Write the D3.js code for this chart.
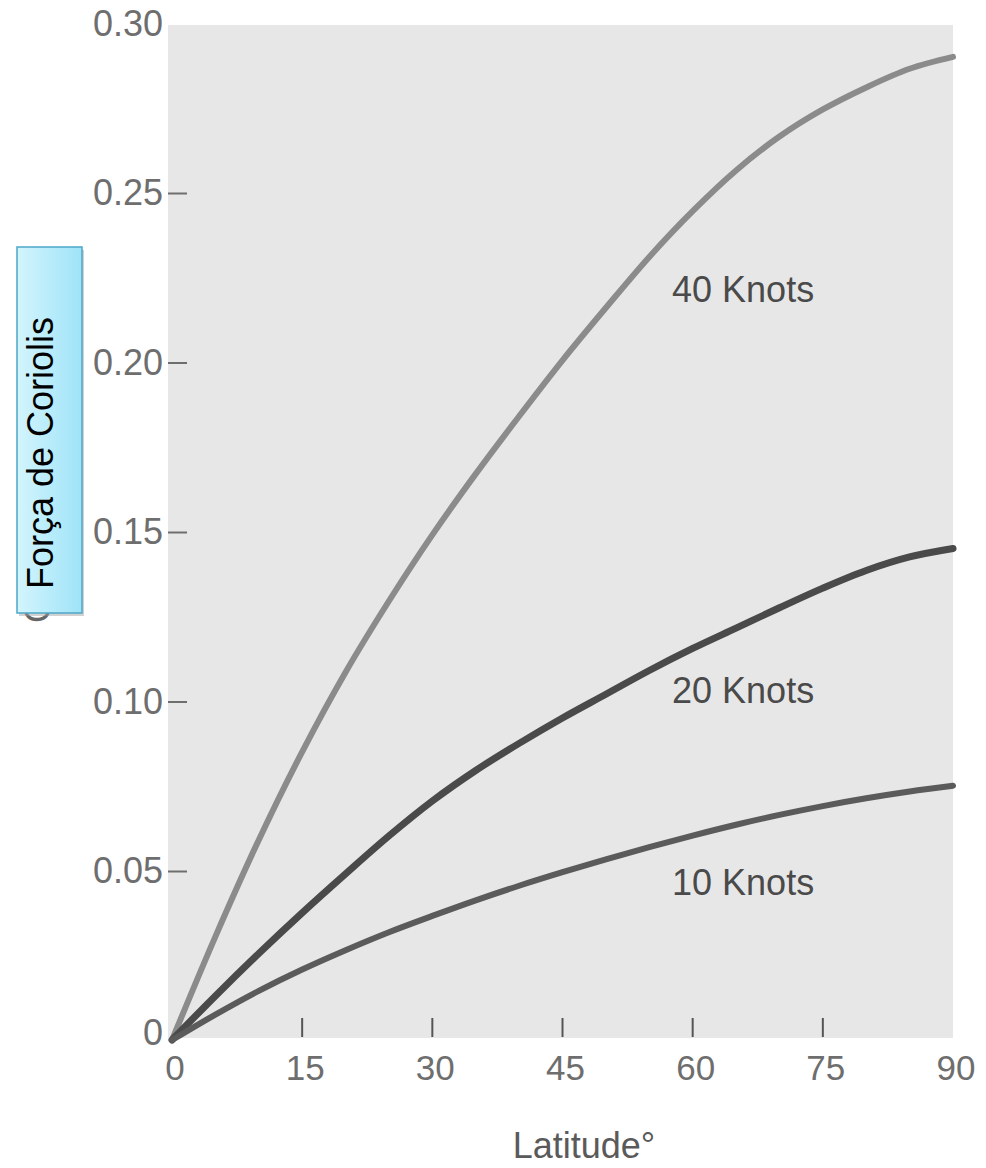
<!DOCTYPE html>
<html>
<head>
<meta charset="utf-8">
<script src="https://cdn.jsdelivr.net/npm/d3@7"></script>
<style>
  body { margin: 0; background: #fff; }
  svg { display: block; }
</style>
</head>
<body>
<svg width="986" height="1168"></svg>
<script>
(function (d3) {

    // values
    const latitudes = [0, 5, 10, 15, 20, 25, 30, 35, 40, 45, 50, 55, 60, 65, 70, 75, 80, 85, 90];
    const knots40 = [0, 0.0305, 0.059, 0.085, 0.1085, 0.1295, 0.149, 0.167, 0.184, 0.2005, 0.216, 0.231, 0.2445, 0.2565, 0.2665, 0.2745, 0.281, 0.2865, 0.290];
    const knots20 = [0, 0.013, 0.0255, 0.0375, 0.049, 0.0602, 0.0705, 0.0795, 0.0875, 0.095, 0.102, 0.109, 0.1155, 0.1215, 0.1275, 0.1333, 0.1385, 0.1425, 0.145];
    const knots10 = [0, 0.0075, 0.0145, 0.0208, 0.0265, 0.0318, 0.0366, 0.0412, 0.0455, 0.0495, 0.0533, 0.0569, 0.0603, 0.0635, 0.0664, 0.069, 0.0713, 0.0733, 0.075];

    const seriesNames = ['40 Knots', '20 Knots', '10 Knots'];
    const labelLat = [74, 74, 74];
    const labelVal = [0.2177, 0.0994, 0.0428];

    const xTicks = [0, 15, 30, 45, 60, 75, 90];
    const yTicks = [0, 0.05, 0.10, 0.15, 0.20, 0.25, 0.30];
    const yTickText = ['0', '0.05', '0.10', '0.15', '0.20', '0.25', '0.30'];

    const svg = d3.select('svg');
    const width  = +svg.attr('width');
    const height = +svg.attr('height');

    const xScale = d3.scaleLinear().domain([0, 90]).range([172, 953]);
    const yScale = d3.scaleLinear().domain([0, 0.30]).range([1040, 23]);

    const font = '"Liberation Sans", Arial, Helvetica, sans-serif';

    svg.append('rect')
        .attr('width', width).attr('height', height)
        .attr('fill', '#fff');

    // plot background
    svg.append('rect')
        .attr('x', xScale(0) - 4)
        .attr('y', yScale(0.30) + 2)
        .attr('width', xScale(90) - xScale(0) + 4)
        .attr('height', yScale(0) - yScale(0.30) - 4)
        .attr('fill', '#e7e7e7');

    // x ticks (inside, bottom)
    svg.append('g').selectAll('line')
      .data(xTicks.filter(d => d > 0 && d < 90))
      .enter().append('line')
        .attr('x1', d => xScale(d)).attr('x2', d => xScale(d))
        .attr('y1', yScale(0) - 22).attr('y2', yScale(0) - 3)
        .attr('stroke', '#555')
        .attr('stroke-width', 2);

    svg.append('g').selectAll('text')
      .data(xTicks)
      .enter().append('text')
        .attr('x', d => xScale(d) + 3)
        .attr('y', 1080)
        .attr('text-anchor', 'middle')
        .style('font', `35px ${font}`)
        .attr('fill', '#6e6e6e')
        .text(d => d);

    // y ticks (label + dash)
    const yG = svg.append('g');
    yG.selectAll('text')
      .data(yTicks)
      .enter().append('text')
        .attr('x', 163)
        .attr('y', d => yScale(d) + (d === 0 ? -8 : 0))
        .attr('dy', '0.35em')
        .attr('text-anchor', 'end')
        .style('font', `36px ${font}`)
        .attr('fill', '#6e6e6e')
        .text((d, i) => yTickText[i]);

    yG.selectAll('line')
      .data(yTicks.filter(d => d > 0 && d < 0.30))
      .enter().append('line')
        .attr('x1', 168).attr('x2', 187)
        .attr('y1', d => yScale(d) + 1).attr('y2', d => yScale(d) + 1)
        .attr('stroke', '#6e6e6e')
        .attr('stroke-width', 2);

    // curves
    const series = [
      { name: seriesNames[0], values: knots40, color: '#8b8b8b', w: 6 },
      { name: seriesNames[1], values: knots20, color: '#4a4a4a', w: 7 },
      { name: seriesNames[2], values: knots10, color: '#5b5b5b', w: 6 }
    ];

    const line = d3.line()
      .x((d, i) => xScale(latitudes[i]))
      .y(d => yScale(d))
      .curve(d3.curveCatmullRom.alpha(0.5));

    svg.append('g').selectAll('path')
      .data(series)
      .enter().append('path')
        .attr('d', d => line(d.values))
        .attr('fill', 'none')
        .attr('stroke', d => d.color)
        .attr('stroke-width', d => d.w)
        .attr('stroke-linecap', 'round');

    svg.append('g').selectAll('text')
      .data(seriesNames)
      .enter().append('text')
        .attr('x', (d, i) => xScale(labelLat[i]))
        .attr('y', (d, i) => yScale(labelVal[i]))
        .attr('text-anchor', 'end')
        .style('font', `36px ${font}`)
        .attr('fill', '#4a4a4a')
        .text(d => d);

    // x axis title
    svg.append('text')
        .attr('x', 584)
        .attr('y', 1158)
        .attr('text-anchor', 'middle')
        .style('font', `36px ${font}`)
        .attr('fill', '#5a5a5a')
        .text('Latitude°');

    // original y title, mostly covered by the box
    svg.append('text')
        .attr('transform', 'translate(50,623) rotate(-90)')
        .style('font', `36px ${font}`)
        .attr('fill', '#666')
        .text('Coriolis force');

    // boxed y title
    const defs = svg.append('defs');
    const grad = defs.append('linearGradient')
        .attr('id', 'boxGrad')
        .attr('x1', '0%').attr('x2', '100%')
        .attr('y1', '0%').attr('y2', '0%');
    grad.append('stop').attr('offset', '0%').attr('stop-color', '#d3f5fd');
    grad.append('stop').attr('offset', '100%').attr('stop-color', '#9fe3f8');

    svg.append('rect')
        .attr('x', 19).attr('y', 250)
        .attr('width', 65).attr('height', 366)
        .attr('fill', '#999')
        .attr('opacity', 0.45);

    svg.append('rect')
        .attr('x', 17).attr('y', 247)
        .attr('width', 65).attr('height', 366)
        .attr('fill', 'url(#boxGrad)')
        .attr('stroke', '#4ea7c9')
        .attr('stroke-width', 1.5);

    svg.append('text')
        .attr('transform', 'translate(53,453) rotate(-90)')
        .attr('text-anchor', 'middle')
        .style('font', `36px ${font}`)
        .attr('fill', '#000')
        .text('Força de Coriolis');

}(d3));
</script>
</body>
</html>
